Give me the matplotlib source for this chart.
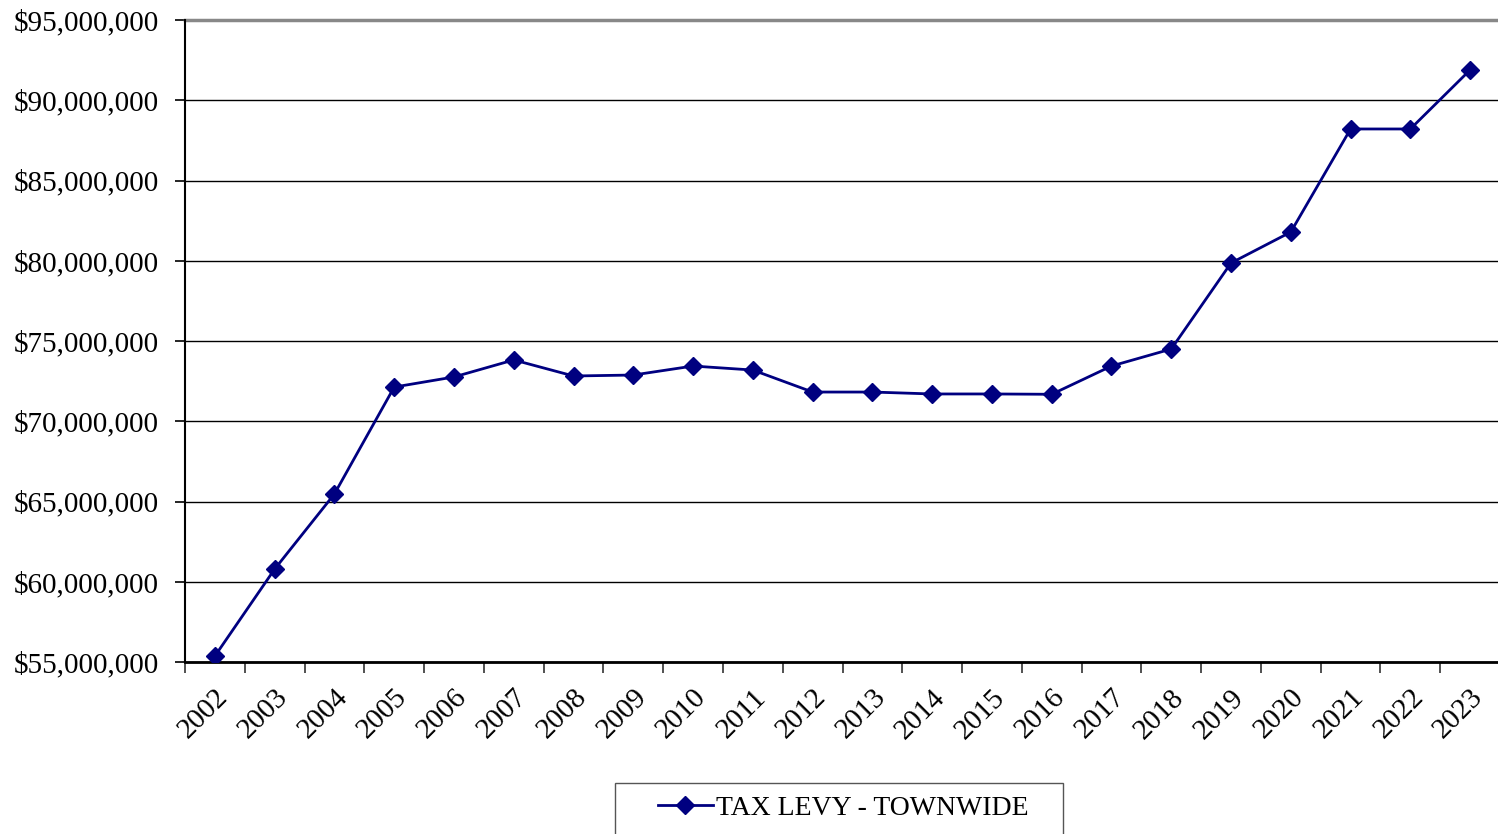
import numpy as np
import matplotlib.pyplot as plt
from matplotlib.patches import Rectangle
from matplotlib.ticker import FuncFormatter, FixedLocator

years = [str(y) for y in range(2002, 2024)]
levy = [55.37, 60.79, 65.47, 72.13, 72.76, 73.82, 72.82, 72.88, 73.44, 73.19,
        71.82, 71.82, 71.70, 71.70, 71.68, 73.44, 74.50, 79.86, 81.79, 88.21,
        88.21, 91.89]
levy = np.array(levy) * 1e6

plt.rcParams['font.family'] = ['Liberation Serif', 'DejaVu Serif']

W, H = 1498, 834
fig = plt.figure(figsize=(W / 100, H / 100), dpi=100)
ax = fig.add_axes([185 / W, 1 - 662 / H, 1315 / W, 642 / H])

x = np.arange(len(years)) + 0.5
ax.plot(x, levy, color='#000080', lw=2, marker='D', ms=9,
        mec='#000080', mfc='#000080', label='TAX LEVY - TOWNWIDE', zorder=3)

ax.set_xlim(0, len(years))
ax.set_ylim(55e6, 95e6)
ax.set_yticks(np.arange(55e6, 95.1e6, 5e6))
ax.yaxis.set_major_formatter(FuncFormatter(lambda v, p: f'${v:,.0f}'))

# boundaries get tick marks, category centres get the labels
ax.xaxis.set_major_locator(FixedLocator(np.arange(0, len(years) + 1)))
ax.xaxis.set_minor_locator(FixedLocator(x))
ax.set_xticklabels([])
ax.set_xticklabels(years, minor=True, rotation=45, ha='right',
                   rotation_mode='anchor')
ax.tick_params(axis='x', which='major', length=8, width=1.2, color='#333333')
ax.tick_params(axis='x', which='minor', length=0, pad=16, labelsize=21)
ax.tick_params(axis='y', length=7, width=1.2, labelsize=21, pad=12)

ax.grid(axis='y', color='black', lw=1)
ax.set_axisbelow(True)
for s in ['top', 'right']:
    ax.spines[s].set_visible(False)
ax.spines['left'].set_linewidth(1.5)
ax.spines['bottom'].set_linewidth(2)
ax.axhline(95e6, color='#888888', lw=2.5, clip_on=False)

# legend box runs off the bottom edge
fig.patches.append(Rectangle((615 / W, -0.05), 448 / W, 0.05 + 1 - 783 / H,
                             transform=fig.transFigure, fill=False,
                             edgecolor='#555555', lw=1))
fig.legend(loc='center', bbox_to_anchor=(843 / W, 1 - 808 / H),
           fontsize=20, frameon=False, handlelength=2.0,
           handletextpad=0.1, borderpad=0, borderaxespad=0)

fig.savefig('out.png', dpi=100)
